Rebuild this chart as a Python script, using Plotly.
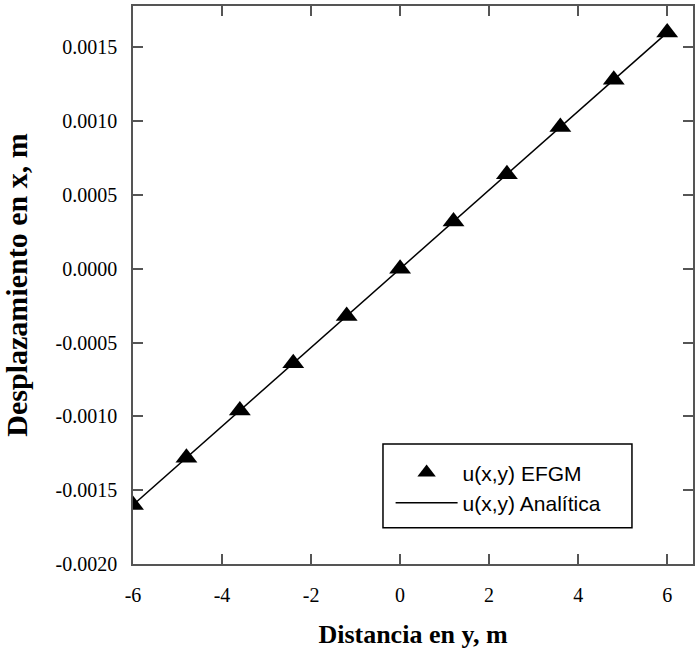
import plotly.graph_objects as go

y_pos = [-6.0, -4.8, -3.6, -2.4, -1.2, 0.0, 1.2, 2.4, 3.6, 4.8, 6.0]
u_efgm = [-0.0016, -0.00128, -0.00096, -0.00064, -0.00032, 0.0, 0.00032, 0.00064, 0.00096, 0.00128, 0.0016]
u_analitica = [-0.0016, -0.00128, -0.00096, -0.00064, -0.00032, 0.0, 0.00032, 0.00064, 0.00096, 0.00128, 0.0016]
x_ticks = [-6, -4, -2, 0, 2, 4, 6]
x_tick_text = ["-6", "-4", "-2", "0", "2", "4", "6"]
y_ticks = [-0.0020, -0.0015, -0.0010, -0.0005, 0.0, 0.0005, 0.0010, 0.0015]
y_tick_text = ["-0.0020", "-0.0015", "-0.0010", "-0.0005", "0.0000", "0.0005", "0.0010", "0.0015"]

SERIF = "Liberation Serif, Times New Roman, serif"

fig = go.Figure()
fig.add_trace(go.Scatter(x=y_pos, y=u_efgm, mode="markers", name="u(x,y) EFGM",
                         legendgroup="a",
                         marker=dict(symbol="triangle-up", size=19, color="black")))
fig.add_trace(go.Scatter(x=y_pos, y=u_analitica, mode="lines", name="u(x,y) Analítica",
                         legendgroup="b",
                         line=dict(color="black", width=1.5)))

axis_common = dict(showgrid=False, zeroline=False, showline=True, linecolor="#555555",
                   linewidth=1.5, mirror="ticks", ticks="inside", ticklen=10,
                   tickcolor="#555555", tickwidth=1.5)

fig.update_layout(
    width=699, height=650, plot_bgcolor="white", paper_bgcolor="white",
    margin=dict(l=133, r=6, t=4, b=86),
    xaxis=dict(range=[-6, 6.58], tickvals=x_ticks, ticktext=x_tick_text, ticklabelstandoff=12,
               tickfont=dict(family=SERIF, size=20, color="black"),
               title=dict(text="<b>Distancia en y, m</b>", standoff=20,
                          font=dict(family=SERIF, size=26, color="black")),
               **axis_common),
    yaxis=dict(range=[-0.002, 0.00178], tickvals=y_ticks, ticktext=y_tick_text,
               ticklabelstandoff=10,
               tickfont=dict(family=SERIF, size=20, color="black"),
               title=dict(text="<b>Desplazamiento en x, m</b>", standoff=24,
                          font=dict(family=SERIF, size=30, color="black")),
               **axis_common),
    legend=dict(x=0.46, y=0.20, xanchor="left", yanchor="top",
                borderwidth=0, bgcolor="rgba(0,0,0,0)",
                font=dict(family="Liberation Sans, Arial, sans-serif", size=21, color="black"),
                itemwidth=62, tracegroupgap=0),
    showlegend=True,
    shapes=[dict(type="rect", xref="paper", yref="paper", x0=0.4464, x1=0.891,
                 y0=0.065, y1=0.215, line=dict(color="black", width=1.5),
                 fillcolor="rgba(0,0,0,0)", layer="above")],
)
fig.write_html("out.html")
